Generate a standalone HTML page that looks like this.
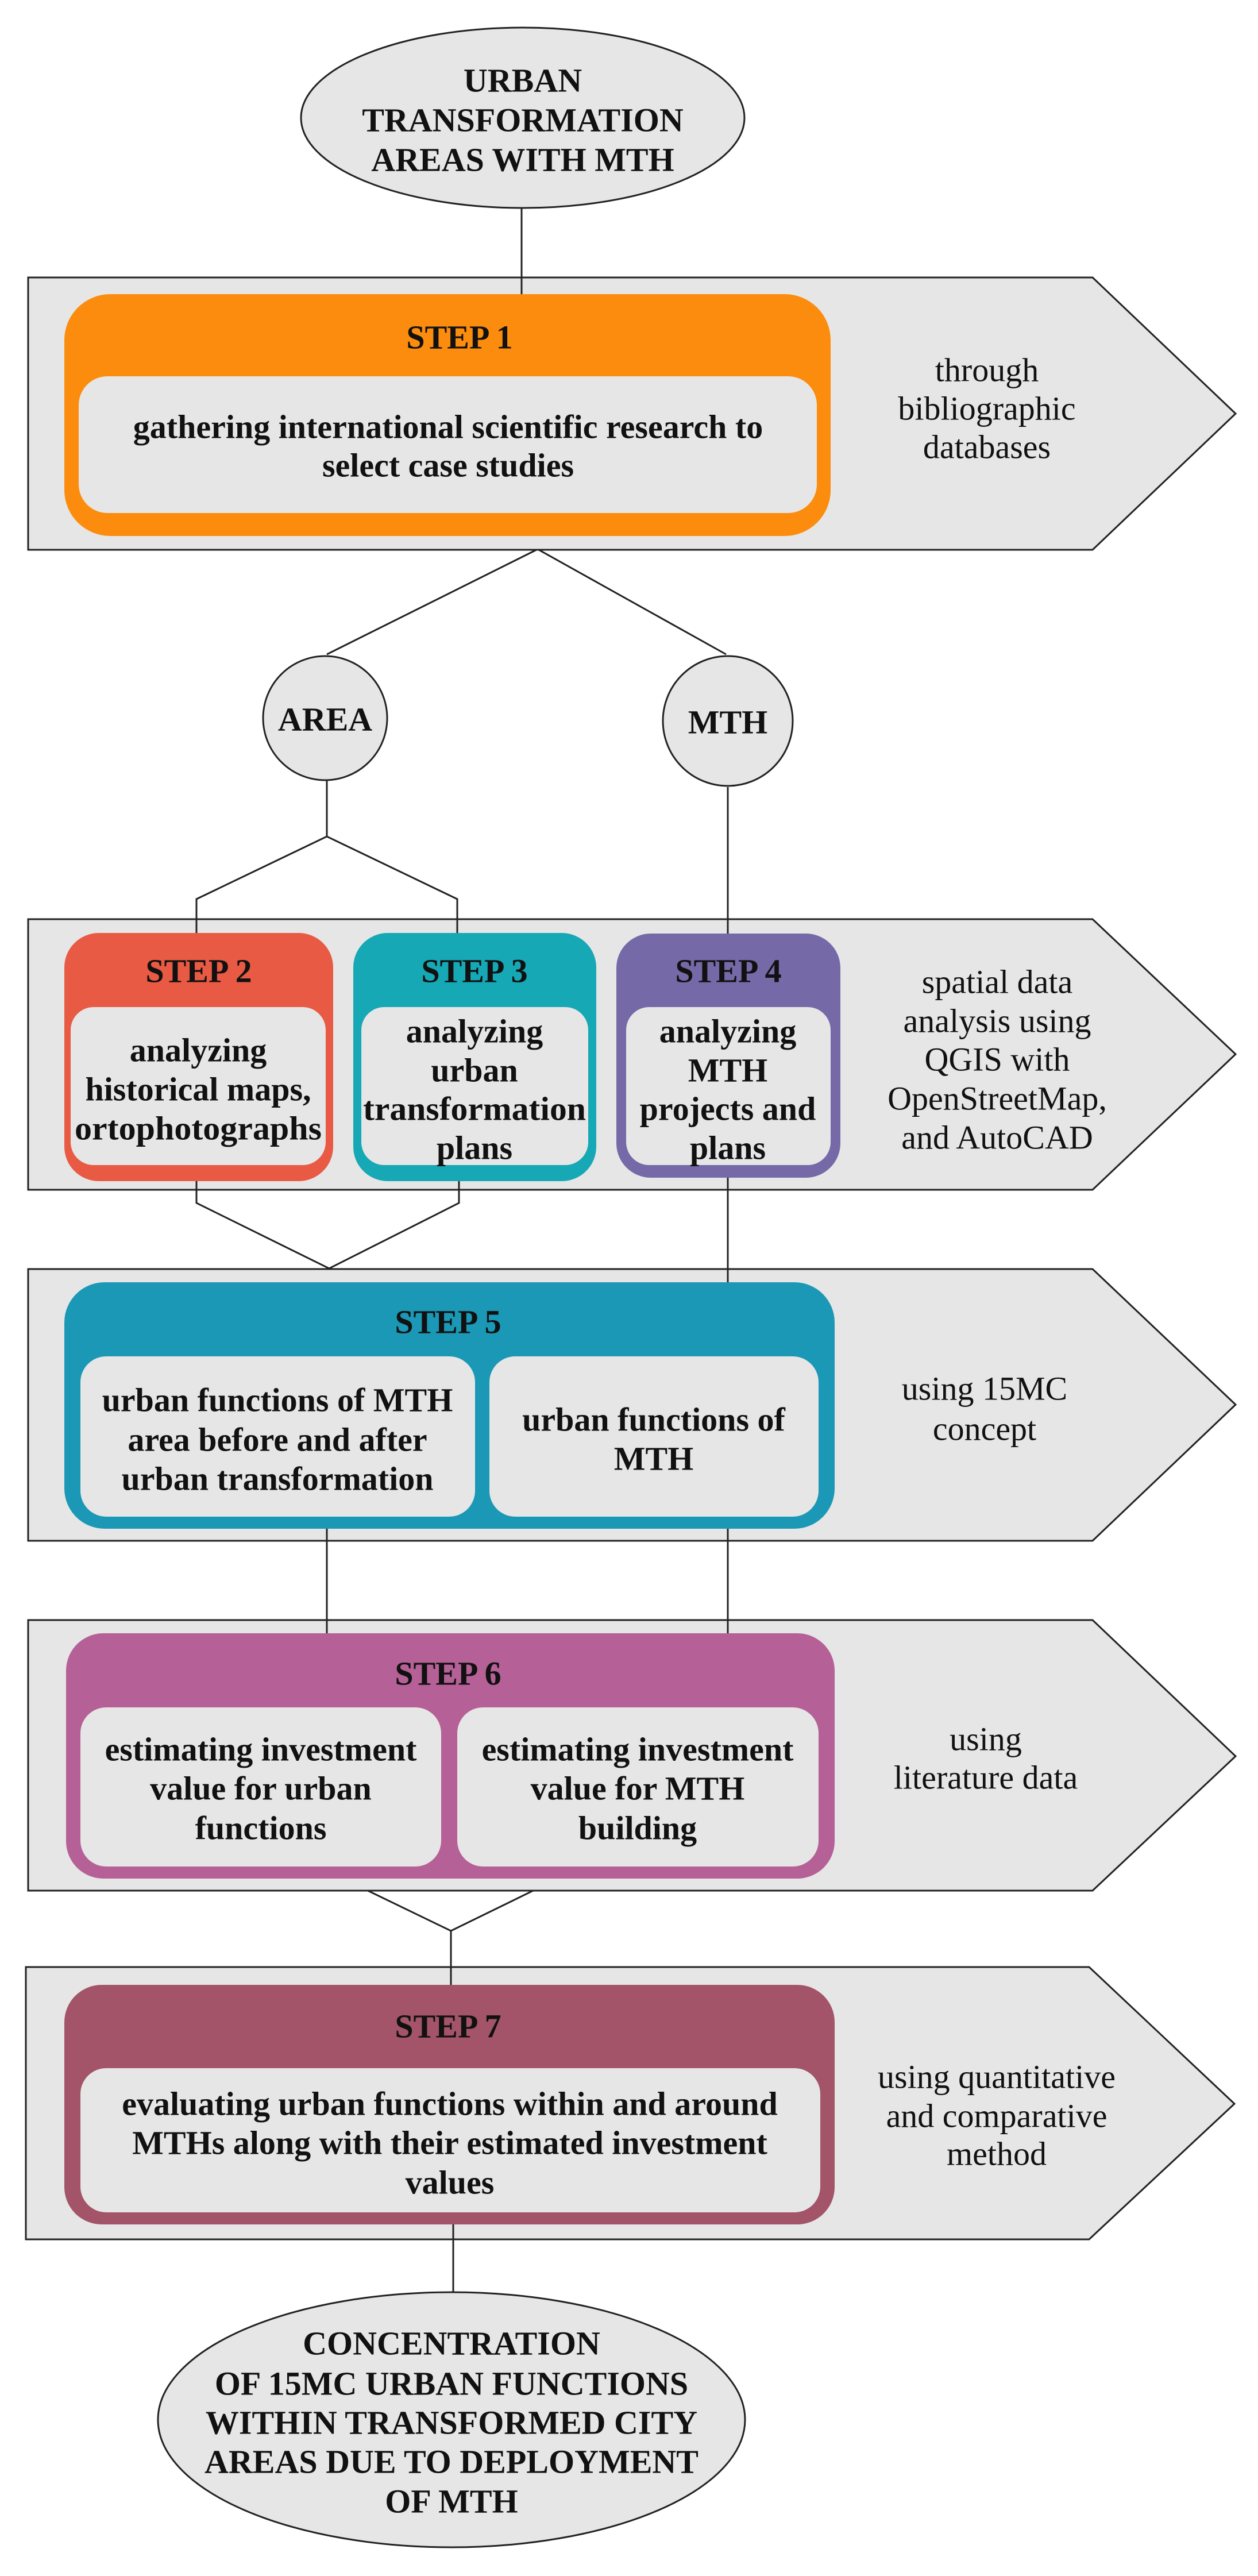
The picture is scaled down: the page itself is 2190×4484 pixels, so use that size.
<!DOCTYPE html>
<html><head><meta charset="utf-8"><style>
html,body{margin:0;padding:0;background:#fff;}
svg{display:block;}
text{font-family:"Liberation Serif",serif;font-size:58px;fill:#111;}
.b{font-weight:bold;}
</style></head><body>
<svg width="2190" height="4484" viewBox="0 0 2190 4484" xmlns="http://www.w3.org/2000/svg">
<g stroke="#222" stroke-width="3" fill="none">
<!-- connectors -->
<line x1="908" y1="362" x2="908" y2="512"/>
<polyline points="569,1139 936,956 1264,1139"/>
<polyline points="342,1600 342,1565 569,1456 796,1565 796,1600"/>
<line x1="569" y1="1358" x2="569" y2="1456"/>
<line x1="1267" y1="1370" x2="1267" y2="1625"/>
<polyline points="342,2056 342,2094 573,2208 799,2094 799,2056"/>
<line x1="1267" y1="2050" x2="1267" y2="2232"/>
<line x1="569" y1="2661" x2="569" y2="2843"/>
<line x1="1267" y1="2661" x2="1267" y2="2843"/>
<polyline points="601,3272 785,3361 967,3272"/>
<line x1="785" y1="3361" x2="785" y2="3455"/>
<line x1="789" y1="3872" x2="789" y2="3991"/>
</g>
<!-- top ellipse -->
<ellipse cx="910" cy="205" rx="386" ry="157" fill="#e6e6e6" stroke="#222" stroke-width="3"/>
<text class="b" x="910" y="140" text-anchor="middle" dominant-baseline="central">URBAN</text>
<text class="b" x="910" y="209" text-anchor="middle" dominant-baseline="central">TRANSFORMATION</text>
<text class="b" x="910" y="278" text-anchor="middle" dominant-baseline="central">AREAS WITH MTH</text>

<!-- band 1 -->
<polygon points="49,483 1902,483 2151,720 1902,957 49,957" fill="#e6e6e6" stroke="#222" stroke-width="3"/>
<line x1="908" y1="483" x2="908" y2="512" stroke="#222" stroke-width="3"/>
<rect x="112" y="512" width="1334" height="421" rx="80" fill="#fb8c0d"/>
<rect x="137" y="655" width="1285" height="238" rx="50" fill="#e6e6e6"/>
<text class="b" x="800" y="587" text-anchor="middle" dominant-baseline="central">STEP 1</text>
<text class="b" x="780" y="743" text-anchor="middle" dominant-baseline="central">gathering international scientific research to</text>
<text class="b" x="780" y="810" text-anchor="middle" dominant-baseline="central">select case studies</text>
<text x="1718" y="644" text-anchor="middle" dominant-baseline="central">through</text>
<text x="1718" y="711" text-anchor="middle" dominant-baseline="central">bibliographic</text>
<text x="1718" y="778" text-anchor="middle" dominant-baseline="central">databases</text>

<!-- circles -->
<circle cx="566" cy="1250" r="108" fill="#e6e6e6" stroke="#222" stroke-width="3"/>
<text class="b" x="566" y="1252" text-anchor="middle" dominant-baseline="central">AREA</text>
<circle cx="1267" cy="1255" r="113" fill="#e6e6e6" stroke="#222" stroke-width="3"/>
<text class="b" x="1267" y="1257" text-anchor="middle" dominant-baseline="central">MTH</text>

<!-- band 2 -->
<polygon points="49,1600 1902,1600 2151,1835 1902,2071 49,2071" fill="#e6e6e6" stroke="#222" stroke-width="3"/>
<g stroke="#222" stroke-width="3"><line x1="342" y1="1600" x2="342" y2="1624"/><line x1="796" y1="1600" x2="796" y2="1624"/><line x1="1267" y1="1600" x2="1267" y2="1625"/><line x1="342" y1="2056" x2="342" y2="2071"/><line x1="799" y1="2056" x2="799" y2="2071"/><line x1="1267" y1="2050" x2="1267" y2="2071"/></g>
<rect x="112" y="1624" width="468" height="432" rx="60" fill="#e85a43"/>
<rect x="123" y="1753" width="444" height="275" rx="40" fill="#e6e6e6"/>
<rect x="615" y="1624" width="423" height="432" rx="60" fill="#16a8b5"/>
<rect x="629" y="1753" width="395" height="275" rx="40" fill="#e6e6e6"/>
<rect x="1073" y="1625" width="390" height="425" rx="60" fill="#7669a8"/>
<rect x="1090" y="1753" width="356" height="275" rx="40" fill="#e6e6e6"/>
<text class="b" x="346" y="1690" text-anchor="middle" dominant-baseline="central">STEP 2</text>
<text class="b" x="826" y="1690" text-anchor="middle" dominant-baseline="central">STEP 3</text>
<text class="b" x="1268" y="1690" text-anchor="middle" dominant-baseline="central">STEP 4</text>
<text class="b" x="345" y="1828" text-anchor="middle" dominant-baseline="central">analyzing</text>
<text class="b" x="345" y="1896" text-anchor="middle" dominant-baseline="central">historical maps,</text>
<text class="b" x="345" y="1964" text-anchor="middle" dominant-baseline="central" textLength="430" lengthAdjust="spacingAndGlyphs">ortophotographs</text>
<text class="b" x="826" y="1795" text-anchor="middle" dominant-baseline="central">analyzing</text>
<text class="b" x="826" y="1863" text-anchor="middle" dominant-baseline="central">urban</text>
<text class="b" x="826" y="1930" text-anchor="middle" dominant-baseline="central" textLength="388" lengthAdjust="spacingAndGlyphs">transformation</text>
<text class="b" x="826" y="1998" text-anchor="middle" dominant-baseline="central">plans</text>
<text class="b" x="1267" y="1795" text-anchor="middle" dominant-baseline="central">analyzing</text>
<text class="b" x="1267" y="1863" text-anchor="middle" dominant-baseline="central">MTH</text>
<text class="b" x="1267" y="1930" text-anchor="middle" dominant-baseline="central">projects and</text>
<text class="b" x="1267" y="1998" text-anchor="middle" dominant-baseline="central">plans</text>
<text x="1736" y="1709" text-anchor="middle" dominant-baseline="central">spatial data</text>
<text x="1736" y="1777" text-anchor="middle" dominant-baseline="central">analysis using</text>
<text x="1736" y="1844" text-anchor="middle" dominant-baseline="central">QGIS with</text>
<text x="1736" y="1912" text-anchor="middle" dominant-baseline="central">OpenStreetMap,</text>
<text x="1736" y="1980" text-anchor="middle" dominant-baseline="central">and AutoCAD</text>

<!-- band 5 -->
<polygon points="49,2209 1902,2209 2151,2445 1902,2682 49,2682" fill="#e6e6e6" stroke="#222" stroke-width="3"/>
<g stroke="#222" stroke-width="3"><line x1="1267" y1="2209" x2="1267" y2="2232"/><line x1="569" y1="2661" x2="569" y2="2682"/><line x1="1267" y1="2661" x2="1267" y2="2682"/></g>
<rect x="112" y="2232" width="1341" height="429" rx="70" fill="#1a98b5"/>
<rect x="140" y="2361" width="687" height="279" rx="45" fill="#e6e6e6"/>
<rect x="852" y="2361" width="573" height="279" rx="45" fill="#e6e6e6"/>
<text class="b" x="780" y="2301" text-anchor="middle" dominant-baseline="central">STEP 5</text>
<text class="b" x="483" y="2437" text-anchor="middle" dominant-baseline="central">urban functions of MTH</text>
<text class="b" x="483" y="2506" text-anchor="middle" dominant-baseline="central">area before and after</text>
<text class="b" x="483" y="2574" text-anchor="middle" dominant-baseline="central">urban transformation</text>
<text class="b" x="1138" y="2471" text-anchor="middle" dominant-baseline="central">urban functions of</text>
<text class="b" x="1138" y="2539" text-anchor="middle" dominant-baseline="central">MTH</text>
<text x="1714" y="2417" text-anchor="middle" dominant-baseline="central">using 15MC</text>
<text x="1714" y="2487" text-anchor="middle" dominant-baseline="central">concept</text>

<!-- band 6 -->
<polygon points="49,2820 1902,2820 2151,3057 1902,3291 49,3291" fill="#e6e6e6" stroke="#222" stroke-width="3"/>
<g stroke="#222" stroke-width="3"><line x1="569" y1="2820" x2="569" y2="2843"/><line x1="1267" y1="2820" x2="1267" y2="2843"/></g>
<rect x="115" y="2843" width="1338" height="427" rx="65" fill="#b56096"/>
<rect x="140" y="2972" width="628" height="277" rx="45" fill="#e6e6e6"/>
<rect x="796" y="2972" width="629" height="277" rx="45" fill="#e6e6e6"/>
<text class="b" x="780" y="2913" text-anchor="middle" dominant-baseline="central">STEP 6</text>
<text class="b" x="454" y="3045" text-anchor="middle" dominant-baseline="central">estimating investment</text>
<text class="b" x="454" y="3113" text-anchor="middle" dominant-baseline="central">value for urban</text>
<text class="b" x="454" y="3182" text-anchor="middle" dominant-baseline="central">functions</text>
<text class="b" x="1110" y="3045" text-anchor="middle" dominant-baseline="central">estimating investment</text>
<text class="b" x="1110" y="3113" text-anchor="middle" dominant-baseline="central">value for MTH</text>
<text class="b" x="1110" y="3182" text-anchor="middle" dominant-baseline="central">building</text>
<text x="1716" y="3027" text-anchor="middle" dominant-baseline="central">using</text>
<text x="1716" y="3094" text-anchor="middle" dominant-baseline="central">literature data</text>

<!-- band 7 -->
<polygon points="45,3424 1896,3424 2149,3662 1896,3898 45,3898" fill="#e6e6e6" stroke="#222" stroke-width="3"/>
<g stroke="#222" stroke-width="3"><line x1="785" y1="3424" x2="785" y2="3455"/><line x1="789" y1="3872" x2="789" y2="3898"/></g>
<rect x="112" y="3455" width="1341" height="417" rx="65" fill="#a35468"/>
<rect x="140" y="3600" width="1288" height="251" rx="45" fill="#e6e6e6"/>
<text class="b" x="780" y="3527" text-anchor="middle" dominant-baseline="central">STEP 7</text>
<text class="b" x="783" y="3662" text-anchor="middle" dominant-baseline="central">evaluating urban functions within and around</text>
<text class="b" x="783" y="3730" text-anchor="middle" dominant-baseline="central">MTHs along with their estimated investment</text>
<text class="b" x="783" y="3799" text-anchor="middle" dominant-baseline="central">values</text>
<text x="1735" y="3615" text-anchor="middle" dominant-baseline="central">using quantitative</text>
<text x="1735" y="3683" text-anchor="middle" dominant-baseline="central">and comparative</text>
<text x="1735" y="3749" text-anchor="middle" dominant-baseline="central">method</text>

<!-- bottom ellipse -->
<ellipse cx="786" cy="4212" rx="511" ry="222" fill="#e6e6e6" stroke="#222" stroke-width="3"/>
<text class="b" x="786" y="4079" text-anchor="middle" dominant-baseline="central">CONCENTRATION</text>
<text class="b" x="786" y="4149" text-anchor="middle" dominant-baseline="central">OF 15MC URBAN FUNCTIONS</text>
<text class="b" x="786" y="4217" text-anchor="middle" dominant-baseline="central">WITHIN TRANSFORMED CITY</text>
<text class="b" x="786" y="4285" text-anchor="middle" dominant-baseline="central">AREAS DUE TO DEPLOYMENT</text>
<text class="b" x="786" y="4354" text-anchor="middle" dominant-baseline="central">OF MTH</text>
</svg>
</body></html>
